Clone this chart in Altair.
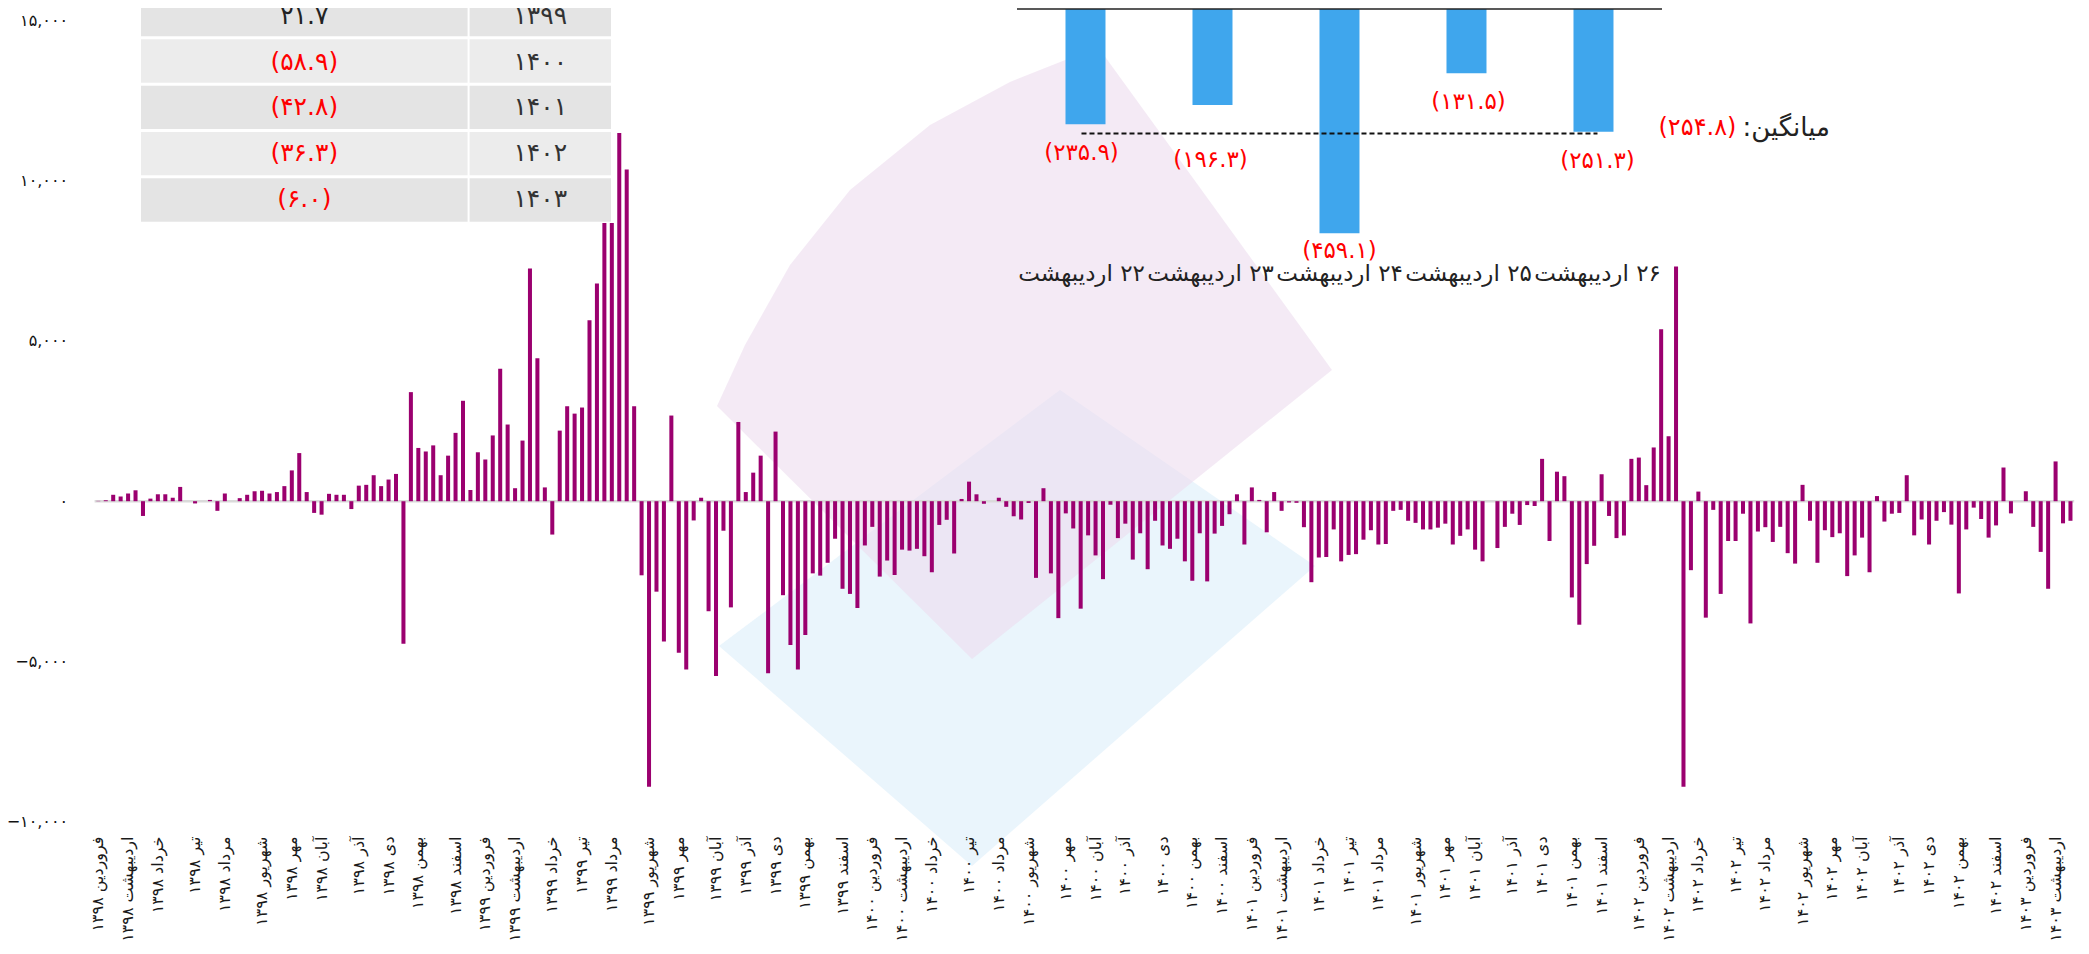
import altair as alt
import pandas as pd

# ---------------- layout constants (page pixels) ----------------
PLOT_LEFT = 94.6
PLOT_TOP = 20.0
W = 1979.6
H = 802
FONT = "DejaVu Sans"
BAR_COLOR = "#9b006f"
INSET_COLOR = "#3fa6ed"
RED = "#ff0000"

FA = str.maketrans("0123456789", "۰۱۲۳۴۵۶۷۸۹")


def fa(x):
    return str(x).translate(FA)


# ---------------- data: weekly values (266 weeks) ----------------
weekly_values = [
    10, 30, 200, 150, 240, 340, -460, 80, 216, 216, 108, 445, 0, -70, 0,
    40, -300, 240, 0, 95, 200, 310, 325, 240, 285, 470, 960, 1500, 285, -365,
    -420, 230, 200, 200, -245, 485, 510, 810, 470, 675, 850, -4440, 3400,
    1660, 1550, 1740, 810, 1420, 2130, 3130, 350, 1525, 1300, 2050, 4130, 2390, 405, 1890,
    7250, 4455, 430, -1040, 2200, 2960, 2730, 2920, 5640, 6790, 8670, 8670, 11475, 10340, 2960,
    -2310, -8900, -2820, -4370, 2670, -4725, -5250, -600, 108, -3430, -5450, -920, -3310, 2470, 285,
    890, 1420, -5360, 2170, -2930, -4480, -5250, -4170, -2250, -2320, -1920, -1170, -2730, -2890, -3330,
    -1380, -800, -2350, -1850, -2300, -1510, -1540, -1485, -1715, -2215, -740, -580, -1630, 70, 610,
    215, -80, 0, 108, -175, -470, -570, -55, -2390, 405, -2250, -3645, -380, -850, -3350,
    -1065, -1690, -2430, -110, -1150, -700, -1820, -1000, -2120, -610, -1380, -1485, -1170, -1875, -2480,
    -1000, -2500, -1010, -770, -405, 215, -1350, 430, 40, -970, 285, -300, -40, -50, -810,
    -2525, -1755, -1740, -880, -1875, -1675, -1650, -1200, -905, -1350, -1335, -300, -270, -610, -675,
    -880, -880, -825, -700, -1350, -1080, -880, -1510, -1875, 0, -1460, -800, -390, -740, -120,
    -150, 1320, -1240, 920, 780, -3000, -3850, -1960, -1390, 840, -460, -1150, -1070, 1320, 1360,
    500, 1675, 5360, 2025, 7320, -8900, -2150, 300, -3630, -270, -2890, -1240, -1240, -390, -3810,
    -945, -810, -1270, -800, -1620, -1945, 510, -610, -1920, -905, -1120, -1000, -2335, -1690, -1135,
    -2215, 160, -635, -390, -365, 810, -1065, -570, -1350, -610, -340, -730, -2875, -880, -200,
    -555, -1135, -755, 1050, -380, 0, 310, -800, -1580, -2730, 1240, -690, -610,
]

month_names = ["فروردین", "اردیبهشت", "خرداد", "تیر", "مرداد", "شهریور",
               "مهر", "آبان", "آذر", "دی", "بهمن", "اسفند"]
tick_labels = [f"{m} {fa(y)}" for y in [1398, 1399, 1400, 1401, 1402] for m in month_names]
tick_labels += [f"{month_names[0]} {fa(1403)}", f"{month_names[1]} {fa(1403)}"]
# week (bar) at which each month label sits
tick_bar_index = [0, 4, 8, 13, 17, 22, 26, 30, 35, 39, 43, 48,
                  52, 56, 61, 65, 69, 74, 78, 83, 87, 91, 95, 100,
                  104, 108, 112, 117, 121, 125, 130, 134, 138, 143, 147, 151,
                  155, 159, 164, 168, 172, 177, 181, 185, 190, 194, 198, 202,
                  207, 211, 215, 220, 224, 229, 233, 237, 242, 246, 250, 255,
                  259, 263]
y_ticks = [-10000, -5000, 0, 5000, 10000, 15000]

# ---------------- data: table ----------------
table_years = [1399, 1400, 1401, 1402, 1403]
table_change = [21.7, -58.9, -42.8, -36.3, -6.0]

# ---------------- data: inset ----------------
inset_days = [22, 23, 24, 25, 26]
inset_values = [235.9, 196.3, 459.1, 131.5, 251.3]
inset_average = 254.8

# ---------------- helpers ----------------
x_label_expr = ("[" + ",".join(f"'{l}'" for l in tick_labels) + "][indexof(["
                + ",".join(str(i) for i in tick_bar_index) + "], datum.value)]")
y_label_expr = "format(datum.value, ',')"
for d in "0123456789":
    y_label_expr = f"replace({y_label_expr}, regexp('{d}', 'g'), '{fa(d)}')"


def paren(v):
    s = fa(f"{abs(v):.1f}")
    return f"({s})" if v < 0 else s


# ---------------- watermark (decorative logo) ----------------
pink_outline = [(717, 406), (745, 345), (790, 265), (850, 190), (930, 125), (1010, 82),
                (1098, 47), (1332, 370), (972, 659)]
blue_outline = [(719, 646), (1060, 390), (1315, 566), (972, 866)]


def shape_path(pts, cx, cy, s):
    out = []
    for k, (px, py) in enumerate(pts):
        x = (px - PLOT_LEFT - cx) / s
        y = (py - PLOT_TOP - cy) / s
        out.append(("M" if k == 0 else "L") + f"{x:.4f},{y:.4f}")
    return " ".join(out) + " Z"


S = 700.0
CX, CY = 1000.0, 450.0
one = pd.DataFrame({"a": [0]})
blue_mark = alt.Chart(one).mark_point(
    shape=shape_path(blue_outline, CX, CY, S), filled=True, fill="#e6f3fb",
    opacity=0.85, strokeWidth=0, size=(2 * S) ** 2
).encode(x=alt.value(CX), y=alt.value(CY))
pink_mark = alt.Chart(one).mark_point(
    shape=shape_path(pink_outline, CX, CY, S), filled=True, fill="#ecdcee",
    opacity=0.6, strokeWidth=0, size=(2 * S) ** 2
).encode(x=alt.value(CX), y=alt.value(CY))

# ---------------- main weekly bars ----------------
df = pd.DataFrame({"i": list(range(len(weekly_values))), "v": weekly_values})
y_scale = alt.Scale(domain=[-10000, 15000], nice=False, zero=False)

zero_rule = alt.Chart(pd.DataFrame({"z": [0]})).mark_rule(
    color="#dadada", strokeWidth=2.5
).encode(
    y=alt.Y("z:Q", scale=y_scale, axis=None),
    x=alt.value(0), x2=alt.value(W),
)

bars = alt.Chart(df).mark_bar(color=BAR_COLOR).encode(
    x=alt.X("i:O", scale=alt.Scale(paddingInner=0.46, paddingOuter=0.23),
            axis=alt.Axis(values=tick_bar_index, labelExpr=x_label_expr, labelAngle=270,
                          labelFontSize=16, labelFont=FONT, labelColor="#1a1a1a",
                          labelPadding=14, ticks=False, domain=False, grid=False,
                          title=None, labelOverlap=False, labelBound=False, labelFlush=False,
                          zindex=2)),
    y=alt.Y("v:Q", scale=y_scale, stack=None,
            axis=alt.Axis(values=y_ticks, labelExpr=y_label_expr, labelFontSize=16,
                          labelFont=FONT, labelColor="#111", labelPadding=27,
                          ticks=False, domain=False, grid=False, title=None, zindex=2)),
)

# ---------------- table ----------------
tdf = pd.DataFrame({
    "year": [fa(y) for y in table_years],
    "change": table_change,
    "change_txt": [paren(v) for v in table_change],
    "row": list(range(len(table_years))),
})
row_scale = alt.Scale(domain=[fa(y) for y in table_years], range=[-27, 201.7],
                      paddingInner=0.065, paddingOuter=0)
row_y = alt.Y("year:N", scale=row_scale, axis=None, sort=None)
row_fill = alt.condition("datum.row % 2 == 0", alt.value("#e4e4e4"), alt.value("#ececec"))

cell_left = alt.Chart(tdf).mark_rect().encode(
    y=row_y, x=alt.value(46.4), x2=alt.value(373), fill=row_fill)
cell_right = alt.Chart(tdf).mark_rect().encode(
    y=row_y, x=alt.value(375), x2=alt.value(516.4), fill=row_fill)
txt_change = alt.Chart(tdf).mark_text(font=FONT, fontSize=25, baseline="middle").encode(
    y=row_y, x=alt.value(209.7), text="change_txt:N",
    color=alt.condition("datum.change < 0", alt.value(RED), alt.value("#222222")))
txt_year = alt.Chart(tdf).mark_text(font=FONT, fontSize=25, baseline="middle", color="#333333").encode(
    y=row_y, x=alt.value(445.7), text="year:N")

# ---------------- inset bar chart ----------------
idf = pd.DataFrame({
    "k": list(range(len(inset_days))),
    "val": inset_values,
    "val_txt": [paren(-v) for v in inset_values],
    "day_txt": ["\u200f" + fa(d) + " اردیبهشت" for d in inset_days],
    "avg": [inset_average] * len(inset_days),
})
ix = alt.Scale(domain=[-0.5, 4.5], range=[922.4, 1567.4], nice=False, zero=False)
iy = alt.Scale(domain=[0, 500], range=[-11, 233.3], nice=False, zero=False)

inset_bars = alt.Chart(idf).mark_bar(width=40, color=INSET_COLOR).encode(
    x=alt.X("k:Q", scale=ix, axis=None),
    y=alt.Y("val:Q", scale=iy, axis=None), y2=alt.datum(0))
inset_top = alt.Chart(one).mark_rule(color="#222222", strokeWidth=1.5).encode(
    x=alt.X(datum=-0.5, scale=ix, axis=None), x2=alt.datum(4.5),
    y=alt.Y(datum=0, scale=iy, axis=None))
adf = pd.DataFrame({"k0": [0], "k1": [len(inset_days) - 1], "avg": [inset_average]})
inset_avg = alt.Chart(adf).mark_rule(color="#111111", strokeWidth=2, strokeDash=[5, 3]).encode(
    x=alt.X("k0:Q", scale=ix, axis=None), x2="k1:Q",
    y=alt.Y("avg:Q", scale=iy, axis=None))
# value labels sit just under each bar, nudged off the average line and the date row
inset_vals = alt.Chart(idf).transform_calculate(
    c="datum.val + 59"
).transform_calculate(
    c2="abs(datum.c - datum.avg) < 28.5 ? datum.avg + 55 : min(datum.c, 495)"
).mark_text(font=FONT, fontSize=23, color=RED, baseline="middle").encode(
    x=alt.X("k:Q", scale=ix, axis=None),
    y=alt.Y("c2:Q", scale=iy, axis=None), text="val_txt:N")
inset_days_txt = alt.Chart(idf).mark_text(font=FONT, fontSize=23, color="#222222",
                                          baseline="middle").encode(
    x=alt.X("k:Q", scale=ix, axis=None), y=alt.value(254), text="day_txt:N")
avg_df = pd.DataFrame({"pos": [5.1], "avg": [inset_average],
                       "lab": ["میانگین:\u200f"], "num": [paren(-inset_average)]})
avg_label = alt.Chart(avg_df).mark_text(font=FONT, fontSize=26, color="#222222", align="left",
                                        baseline="middle", dx=3, dy=-5).encode(
    x=alt.X("pos:Q", scale=ix, axis=None), y=alt.Y("avg:Q", scale=iy, axis=None), text="lab:N")
avg_num = alt.Chart(avg_df).mark_text(font=FONT, fontSize=24, color=RED, align="right",
                                      baseline="middle", dx=-3, dy=-5).encode(
    x=alt.X("pos:Q", scale=ix, axis=None), y=alt.Y("avg:Q", scale=iy, axis=None), text="num:N")

chart = alt.layer(
    blue_mark, pink_mark, zero_rule, bars,
    cell_left, cell_right, txt_change, txt_year,
    inset_bars, inset_top, inset_avg, inset_vals, inset_days_txt, avg_label, avg_num,
).resolve_scale(x="independent", y="independent").properties(
    width=W, height=H,
    autosize=alt.AutoSizeParams(type="none"),
    padding={"left": PLOT_LEFT - 8, "top": PLOT_TOP - 8, "right": 5, "bottom": 130},
).configure(background="white", view=alt.ViewConfig(stroke=None))

chart.save("out.html", embed_options={"renderer": "svg", "actions": False})
